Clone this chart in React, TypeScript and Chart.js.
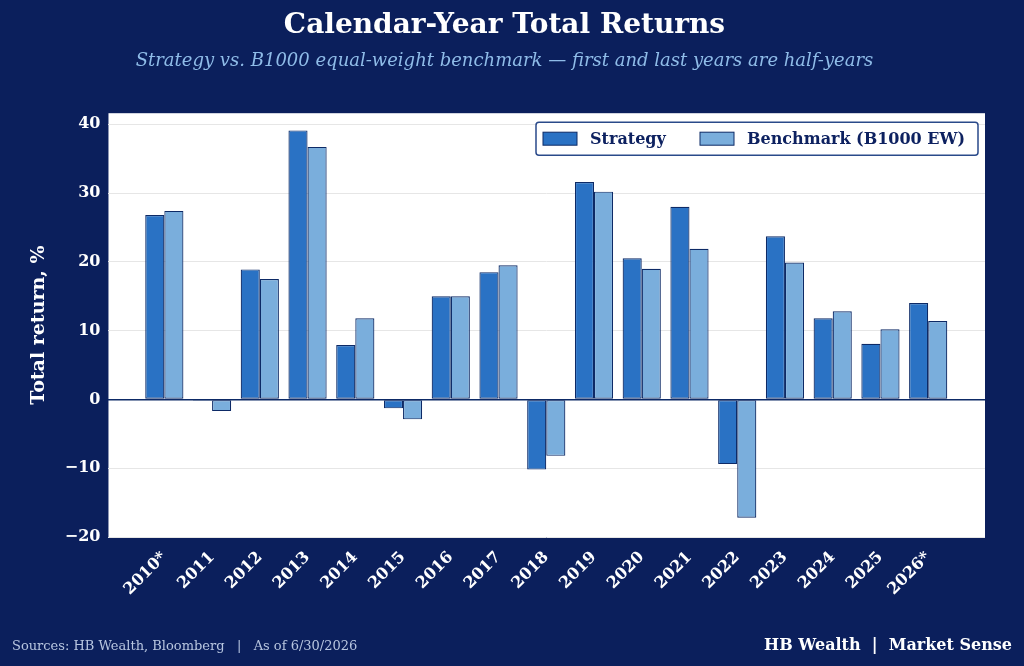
import React, { useEffect, useRef } from "react";
import { Chart, registerables } from "chart.js";
Chart.register(...registerables);

const categories = ["2010*", "2011", "2012", "2013", "2014", "2015", "2016", "2017", "2018", "2019", "2020", "2021", "2022", "2023", "2024", "2025", "2026*"];
const strategy = [26.8, -0.2, 18.9, 39.1, 7.9, -1.3, 15.0, 18.5, -10.2, 31.6, 20.5, 28.0, -9.4, 23.7, 11.8, 8.1, 14.0];
const benchmark = [27.4, -1.7, 17.5, 36.7, 11.8, -2.9, 15.0, 19.5, -8.2, 30.2, 19.0, 21.9, -17.2, 19.9, 12.8, 10.2, 11.4];
const seriesNames = ["Strategy", "Benchmark (B1000 EW)"];
const yTicks = [-20, -10, 0, 10, 20, 30, 40];

const BG = "#0b1f5c";
const C1 = "#2a72c4";
const C2 = "#7aaedc";
const EDGE = "#0d2a66";
const FONT = "'DejaVu Serif', serif";

export default function App() {
  const ref = useRef<HTMLCanvasElement>(null);
  useEffect(() => {
    document.body.style.margin = "0";
    const deco = {
      id: "deco",
      beforeDraw(chart: any) {
        const { ctx, chartArea: a } = chart;
        ctx.save();
        ctx.fillStyle = BG;
        ctx.fillRect(0, 0, chart.width, chart.height);
        ctx.fillStyle = "#ffffff";
        ctx.fillRect(a.left, a.top, a.right - a.left, a.bottom - a.top);
        ctx.restore();
      },
      afterDraw(chart: any) {
        const { ctx, chartArea: a } = chart;
        ctx.save();
        const lx = 536, ly = a.top + 9, lw = a.right - 7 - lx, lh = 33;
        ctx.fillStyle = "#fff";
        ctx.strokeStyle = "#2a4a8a";
        ctx.lineWidth = 1.5;
        ctx.beginPath();
        ctx.roundRect(lx, ly, lw, lh, 3);
        ctx.fill();
        ctx.stroke();
        ctx.font = `bold 16px ${FONT}`;
        ctx.textBaseline = "middle";
        const items = [
          { x: lx + 7, c: C1, t: seriesNames[0] },
          { x: lx + 164, c: C2, t: seriesNames[1] },
        ];
        for (const it of items) {
          ctx.fillStyle = it.c;
          ctx.strokeStyle = EDGE;
          ctx.lineWidth = 1;
          ctx.fillRect(it.x, ly + 10, 34, 13);
          ctx.strokeRect(it.x, ly + 10, 34, 13);
          ctx.fillStyle = "#0d2160";
          ctx.fillText(it.t, it.x + 47, ly + lh / 2 + 1);
        }
        ctx.textBaseline = "alphabetic";
        ctx.font = `13px ${FONT}`;
        ctx.fillStyle = "#b8c6e0";
        ctx.textAlign = "left";
        ctx.fillText("Sources: HB Wealth, Bloomberg   |   As of 6/30/2026", 12, 650);
        ctx.font = `bold 16px ${FONT}`;
        ctx.fillStyle = "#ffffff";
        ctx.textAlign = "right";
        ctx.fillText("HB Wealth  |  Market Sense", 1012, 650);
        ctx.restore();
      },
    };
    const chart = new Chart(ref.current!, {
      type: "bar",
      data: {
        datasets: [
          { label: seriesNames[0], data: strategy.map((y, i) => ({ x: i, y })), backgroundColor: C1, borderColor: EDGE, borderWidth: 1.2, borderSkipped: false, categoryPercentage: 0.8, barPercentage: 1 },
          { label: seriesNames[1], data: benchmark.map((y, i) => ({ x: i, y })), backgroundColor: C2, borderColor: EDGE, borderWidth: 1.2, borderSkipped: false, categoryPercentage: 0.8, barPercentage: 1 },
        ],
      },
      options: {
        animation: false,
        responsive: false,
        layout: { padding: { left: 24, right: 39, top: 0, bottom: 64 } },
        plugins: {
          legend: { display: false },
          tooltip: { enabled: false },
          title: {
            display: true,
            text: "Calendar-Year Total Returns",
            color: "#ffffff",
            font: { family: FONT, size: 28, weight: "bold" },
            padding: { top: 9, bottom: 8 },
          },
          subtitle: {
            display: true,
            text: "Strategy vs. B1000 equal-weight benchmark \u2014 first and last years are half-years",
            color: "#8fbce8",
            font: { family: FONT, size: 18, style: "italic" },
            padding: { bottom: 41 },
          },
        },
        scales: {
          x: {
            type: "linear",
            min: -1.17,
            max: 17.19,
            offset: false,
            afterBuildTicks: (ax: any) => { ax.ticks = categories.map((_, i) => ({ value: i })); },
            grid: { display: false },
            border: { display: false },
            ticks: {
              color: "#ffffff",
              font: { family: FONT, size: 16, weight: "bold" },
              maxRotation: 45,
              minRotation: 45,
              callback: (v: any) => categories[v] ?? "",
            },
          },
          y: {
            min: -20,
            max: 41.6,
            afterBuildTicks: (ax: any) => { ax.ticks = yTicks.map((v) => ({ value: v })); },
            grid: {
              color: (c: any) => (c.tick && c.tick.value === 0 ? "#0d2a66" : "#e6e6e6"),
              lineWidth: (c: any) => (c.tick && c.tick.value === 0 ? 1.5 : 1),
              drawTicks: false,
            },
            border: { display: false },
            ticks: {
              color: "#ffffff",
              padding: 8,
              font: { family: FONT, size: 16, weight: "bold" },
              callback: (v: any) => (v < 0 ? "\u2212" + Math.abs(v) : String(v)),
            },
            title: {
              display: true,
              text: "Total return, %",
              color: "#ffffff",
              font: { family: FONT, size: 19, weight: "bold" },
              padding: { bottom: 6 },
            },
          },
        },
      },
      plugins: [deco],
    });
    return () => chart.destroy();
  }, []);
  return <canvas ref={ref} width={1024} height={666} style={{ display: "block" }} />;
}
